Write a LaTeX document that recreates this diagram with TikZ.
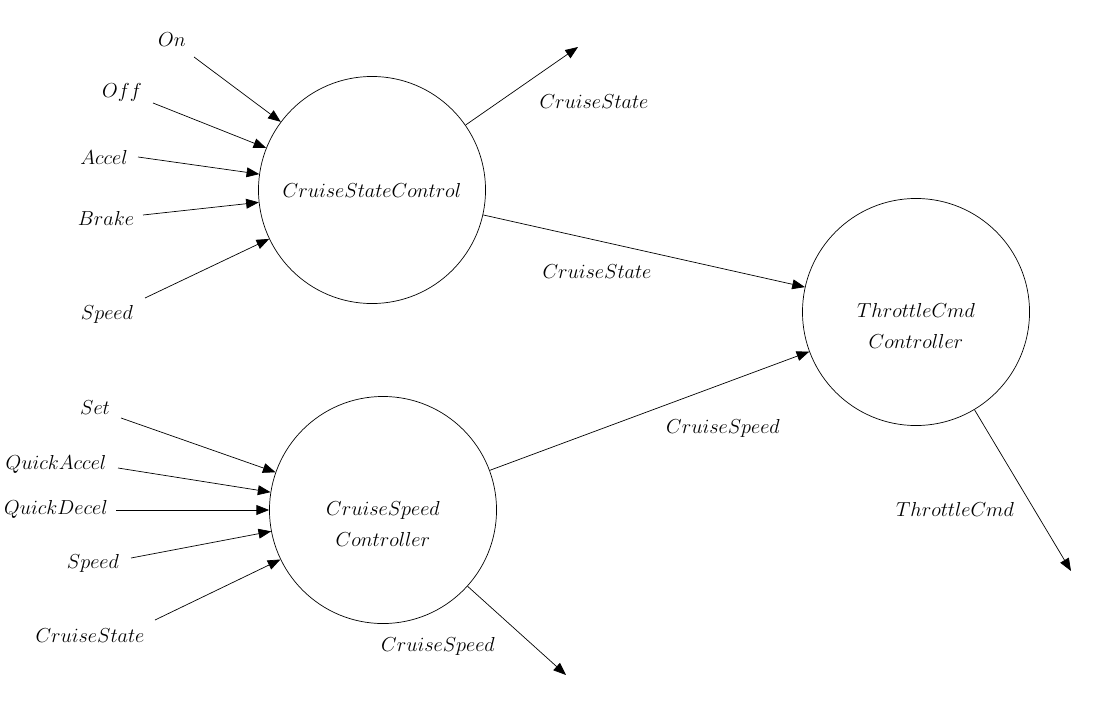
\documentclass[tikz,border=0pt]{standalone}
\usepackage{amsmath}
\usetikzlibrary{arrows.meta}

\begin{document}
\begin{tikzpicture}[
		x=0.025cm, y=-0.025cm,
		proc/.style={circle, draw, line width=0.5pt, minimum size=5.675cm, inner sep=0pt, align=center, font=\fontsize{14}{22}\selectfont},
		flusso/.style={-{Triangle[length=9pt, width=7pt]}, line width=0.5pt, black},
		lab/.style={font=\fontsize{14}{17}\selectfont, inner sep=1pt},
		]
		
		\useasboundingbox (0,0) rectangle (1103,716);
		
		%%=== processi ===================================================
		\node[proc] (csc) at (372,190) {$CruiseStateControl$};
		\node[proc] (csp) at (383,510) {\mbox{}\\[8pt]$CruiseSpeed$\\$Controller$};
		\node[proc] (tcc) at (916,312) {\mbox{}\\[8pt]$ThrottleCmd$\\$Controller$};
		
		%%=== ingressi di CruiseStateControl ============================
		\node[lab] (lOn)    at (172,40)  {$On$};
		\node[lab] (lOff)   at (122,92)  {$Off$};
		\node[lab] (lAcc)   at (104,157) {$Accel$};
		\node[lab] (lBrk)   at (106,218) {$Brake$};
		\node[lab] (lSpd)   at (107,314) {$Speed$};
		\coordinate (iOn)  at (194,57);
		\coordinate (iOff) at (153,103);
		\coordinate (iAcc) at (138,157);
		\coordinate (iBrk) at (143,215);
		\coordinate (iSpd) at (145,298);
		\foreach \p in {iOn,iOff,iAcc,iBrk,iSpd}
			\draw[flusso] (\p) -- (csc);
		
		% uscita CruiseState
		\coordinate (oCs) at (578,47);
		\draw[flusso] (csc) -- (oCs);
		\node[lab] (lCs1) at (594,102) {$CruiseState$};
		
		% CruiseState verso ThrottleCmd
		\draw[flusso] (csc) -- (tcc);
		\node[lab] (lCs2) at (597,272) {$CruiseState$};
		
		%%=== ingressi di CruiseSpeed Controller =========================
		\node[lab] (lSet)  at (95,408)  {$Set$};
		\node[lab] (lQA)   at (56,464)  {$QuickAccel$};
		\node[lab] (lQD)   at (56,509)  {$QuickDecel$};
		\node[lab] (lSpd2) at (93,563)  {$Speed$};
		\node[lab] (lCs3)  at (90,636)  {$CruiseState$};
		\coordinate (iSet)  at (121,418);
		\coordinate (iQA)   at (118,468);
		\coordinate (iQD)   at (116,510);
		\coordinate (iSpd2) at (131,558);
		\coordinate (iCs3)  at (155,620);
		\foreach \p in {iSet,iQA,iQD,iSpd2,iCs3}
			\draw[flusso] (\p) -- (csp);
		
		% CruiseSpeed verso ThrottleCmd
		\draw[flusso] (csp) -- (tcc);
		\node[lab] (lSp1) at (723,428) {$CruiseSpeed$};
		
		% uscita CruiseSpeed
		\coordinate (oSp) at (566,675);
		\draw[flusso] (csp) -- (oSp);
		\node[lab] (lSp2) at (438,646) {$CruiseSpeed$};
		
		%%=== uscita ThrottleCmd ========================================
		\coordinate (oTc) at (1071,571);
		\draw[flusso] (tcc) -- (oTc);
		\node[lab] (lTc) at (955,509) {$ThrottleCmd$};
		
	\end{tikzpicture}
\end{document}
